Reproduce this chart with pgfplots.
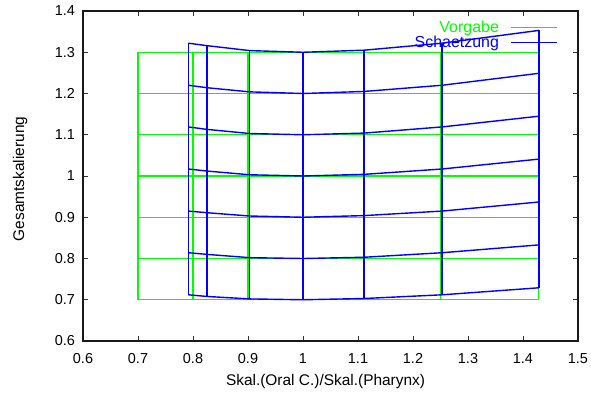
\documentclass[border=0pt]{standalone}
\usepackage{fontspec}
\setmainfont{Liberation Sans}
\usepackage{pgfplots}
\pgfplotsset{compat=1.18}
\definecolor{vgreen}{RGB}{0,255,0}
\definecolor{vblue}{RGB}{0,0,255}
\begin{document}
\begin{tikzpicture}
\path[use as bounding box] (-83bp,-55bp) rectangle (508bp,341bp);
\begin{axis}[
  scale only axis, width=495bp, height=330bp,
  xmin=0.6, xmax=1.5, ymin=0.6, ymax=1.4,
  xtick={0.6,0.7,0.8,0.9,1,1.1,1.2,1.3,1.4,1.5},
  ytick={0.6,0.7,0.8,0.9,1,1.1,1.2,1.3,1.4},
  /pgf/number format/assume math mode=true,
  tick align=inside, major tick length=5bp,
  every tick/.style={black!80, line width=0.8bp},
  axis line style={black!90, line width=1.1bp},
  x tick label style={font=\fontsize{14.5}{16}\selectfont, yshift=-9bp},
  y tick label style={font=\fontsize{14.5}{16}\selectfont, xshift=-4.5bp},
  xlabel={Skal.(Oral C.)/Skal.(Pharynx)},
  ylabel={Gesamtskalierung},
  x label style={font=\fontsize{15.5}{17}\selectfont, at={(axis description cs:0.49,-0.123)}, anchor=center},
  y label style={font=\fontsize{15.5}{17}\selectfont, at={(axis description cs:-0.127,0.491)}, anchor=center},
  legend plot pos=right,
  legend cell align=right,
  legend image code/.code={\draw[#1] (0bp,0bp) -- (46bp,0bp);},
  legend style={draw=none, fill=none, inner sep=0pt, at={(axis cs:1.4627,1.3758)}, anchor=north east, row sep=2bp, column sep=11bp, nodes={inner sep=0pt}, font=\fontsize{16}{18}\selectfont},
]
% Vorgabe (green) grid
\addplot[vgreen, line width=1.3bp] coordinates {(0.7,0.7) (1.4286,0.7)};
\addlegendentry{\textcolor{vgreen}{Vorgabe}}
\addplot[vgreen, line width=1.3bp, forget plot] coordinates {(0.7,0.8) (1.4286,0.8)};
\addplot[vgreen, line width=1.3bp, forget plot] coordinates {(0.7,0.9) (1.4286,0.9)};
\addplot[vgreen, line width=1.3bp, forget plot] coordinates {(0.7,1.0) (1.4286,1.0)};
\addplot[vgreen, line width=1.3bp, forget plot] coordinates {(0.7,1.1) (1.4286,1.1)};
\addplot[vgreen, line width=1.3bp, forget plot] coordinates {(0.7,1.2) (1.4286,1.2)};
\addplot[vgreen, line width=1.3bp, forget plot] coordinates {(0.7,1.3) (1.4286,1.3)};
\addplot[vgreen, line width=1.3bp, forget plot] coordinates {(0.7,0.7) (0.7,1.3)};
\addplot[vgreen, line width=1.3bp, forget plot] coordinates {(0.8,0.7) (0.8,1.3)};
\addplot[vgreen, line width=1.3bp, forget plot] coordinates {(0.9,0.7) (0.9,1.3)};
\addplot[vgreen, line width=1.3bp, forget plot] coordinates {(1.0,0.7) (1.0,1.3)};
\addplot[vgreen, line width=1.3bp, forget plot] coordinates {(1.1111,0.7) (1.1111,1.3)};
\addplot[vgreen, line width=1.3bp, forget plot] coordinates {(1.25,0.7) (1.25,1.3)};
\addplot[vgreen, line width=1.3bp, forget plot] coordinates {(1.4286,0.7) (1.4286,1.3)};
% Schaetzung (blue) grid: rows
\addplot[vblue, line width=1.4bp] coordinates {(0.7915,0.712) (0.8255,0.708) (0.903,0.702) (1.0,0.700) (1.111,0.703) (1.253,0.712) (1.429,0.729)};
\addlegendentry{\textcolor{vblue}{Schaetzung}}
\addplot[vblue, line width=1.4bp, forget plot] coordinates {(0.7915,0.814) (0.8255,0.810) (0.903,0.802) (1.0,0.800) (1.111,0.803) (1.253,0.814) (1.429,0.833)};
\addplot[vblue, line width=1.4bp, forget plot] coordinates {(0.7915,0.915) (0.8255,0.911) (0.903,0.903) (1.0,0.900) (1.111,0.904) (1.253,0.915) (1.429,0.937)};
\addplot[vblue, line width=1.4bp, forget plot] coordinates {(0.7915,1.017) (0.8255,1.012) (0.903,1.003) (1.0,1.000) (1.111,1.004) (1.253,1.017) (1.429,1.041)};
\addplot[vblue, line width=1.4bp, forget plot] coordinates {(0.7915,1.119) (0.8255,1.113) (0.903,1.103) (1.0,1.100) (1.111,1.104) (1.253,1.119) (1.429,1.145)};
\addplot[vblue, line width=1.4bp, forget plot] coordinates {(0.7915,1.220) (0.8255,1.214) (0.903,1.204) (1.0,1.200) (1.111,1.205) (1.253,1.220) (1.429,1.249)};
\addplot[vblue, line width=1.4bp, forget plot] coordinates {(0.7915,1.322) (0.8255,1.316) (0.903,1.304) (1.0,1.300) (1.111,1.305) (1.253,1.322) (1.429,1.353)};
% columns
\addplot[vblue, line width=1.4bp, forget plot] coordinates {(0.7915,0.712) (0.7915,1.322)};
\addplot[vblue, line width=1.4bp, forget plot] coordinates {(0.8255,0.708) (0.8255,1.316)};
\addplot[vblue, line width=1.4bp, forget plot] coordinates {(0.903,0.702) (0.903,1.304)};
\addplot[vblue, line width=1.4bp, forget plot] coordinates {(1.0,0.700) (1.0,1.300)};
\addplot[vblue, line width=1.4bp, forget plot] coordinates {(1.111,0.703) (1.111,1.305)};
\addplot[vblue, line width=1.4bp, forget plot] coordinates {(1.253,0.712) (1.253,1.322)};
\addplot[vblue, line width=1.4bp, forget plot] coordinates {(1.429,0.729) (1.429,1.353)};
\end{axis}
\end{tikzpicture}
\end{document}
